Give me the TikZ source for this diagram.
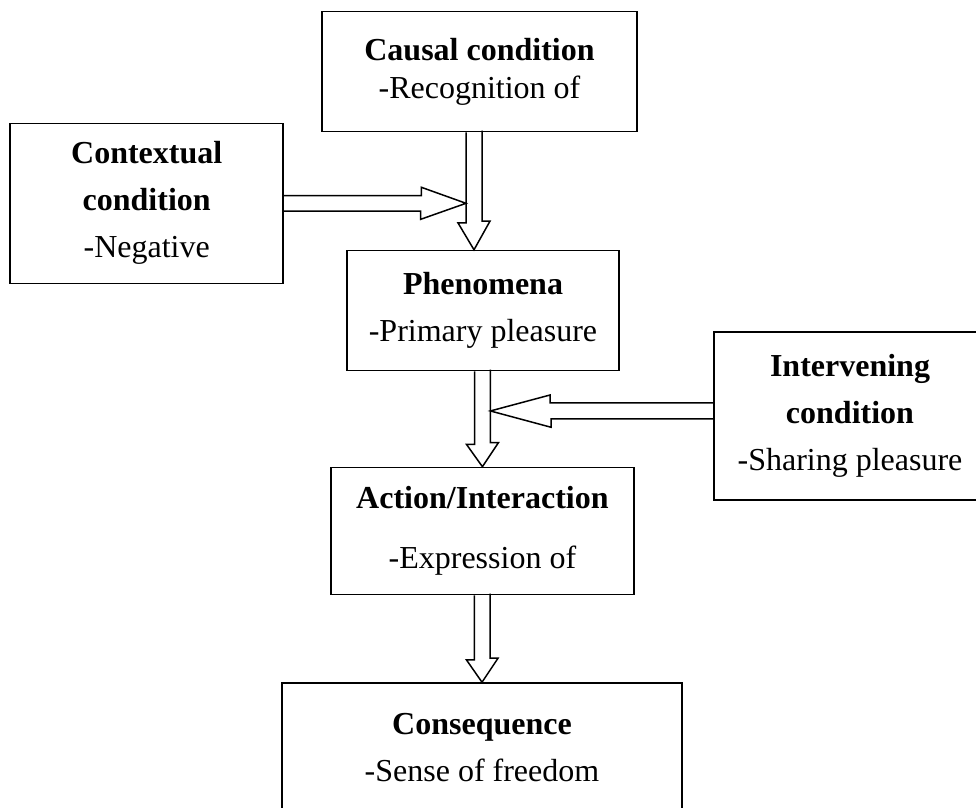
\documentclass[tikz,border=0pt]{standalone}
\usepackage{fontspec}
\setmainfont{Liberation Serif}
\usetikzlibrary{calc}
\tikzset{
  stagebox/.style={draw, line width=1.6pt, align=center, inner sep=0pt,
    font=\fontsize{32}{47}\selectfont},
  hollow/.style={draw, line width=1.5pt, line join=miter}
}

\begin{document}
\begin{tikzpicture}[x=1pt, y=-1pt]
\useasboundingbox (0,0) rectangle (976,807);
\clip (0,0) rectangle (976,807);

% paradigm boxes
\node[stagebox, minimum width=315pt, minimum height=120pt,
      font=\fontsize{32}{38}\selectfont] (causal) at (479.5,71.6)
      {\textbf{Causal condition}\\-Recognition of};
\node[stagebox, minimum width=273pt, minimum height=160pt] (context) at (146.7,203.3)
      {\textbf{Contextual}\\\textbf{condition}\\-Negative};
\node[stagebox, minimum width=272pt, minimum height=120pt] (phen) at (483,310.6)
      {\textbf{Phenomena}\\-Primary pleasure};
\node[stagebox, minimum width=272pt, minimum height=168pt] (interv) at (850,415.7)
      {\textbf{Intervening}\\\textbf{condition}\\-Sharing pleasure};
\node[stagebox, minimum width=303pt, minimum height=127pt] (action) at (482.4,531)
      {\textbf{Action/Interaction}\\[13pt]-Expression of};
\node[stagebox, minimum width=400pt, minimum height=130pt] (conseq) at (482,748)
      {\textbf{Consequence}\\-Sense of freedom};

% block arrows
\draw[hollow] ($(causal.south)+(-13.5,0)$) coordinate (shaftA)
  -- ++(0,90.5) -- ++(-8,0) -- ($(phen.north)+(-9,0)$)
  -- ++(16,-28.7) -- ++(-8,0) -- ++(0,-90.5);
\draw[hollow] ($(phen.south)+(-8.5,0)$)
  -- ++(0,73) -- ++(-8,0) -- (action.north)
  -- ++(16,-24) -- ++(-8,0) -- ++(0,-73) coordinate (shaftB);
\draw[hollow] ($(action.south)+(-8,0)$)
  -- ++(0,64.5) -- ++(-8,0) -- (conseq.north)
  -- ++(16,-24) -- ++(-8,0) -- ++(0,-64.5);

\draw[hollow] ($(context.east)+(0,-7.7)$)
  -- ++(137.4,0) -- ++(0,-8.3) -- (shaftA |- context.east)
  -- ++(-45.3,16) -- ++(0,-8.3) -- ++(-137.4,0);
\draw[hollow] ($(interv.west)+(0,-12.75)$)
  -- ++(-163,0) -- ++(0,-8) -- ($(shaftB |- interv.west)+(0,-4.75)$)
  -- ++(60.6,16.3) -- ++(0,-8.3) -- ++(163,0);

\end{tikzpicture}
\end{document}
